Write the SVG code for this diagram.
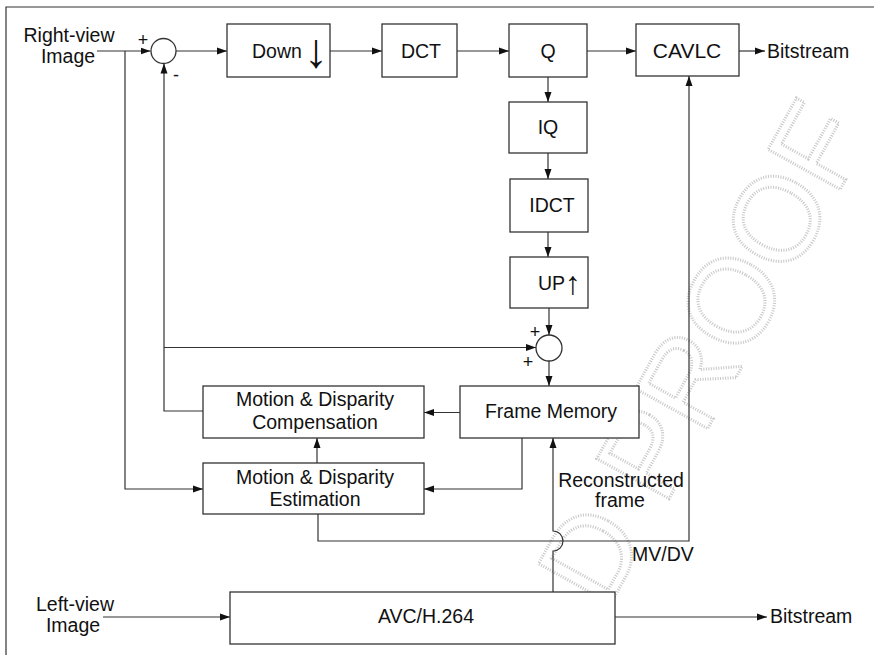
<svg xmlns="http://www.w3.org/2000/svg" width="874" height="655" viewBox="0 0 874 655">
<style>
.box{fill:#fff;stroke:#333;stroke-width:1.3}
.ln{fill:none;stroke:#333;stroke-width:1.2}
.sum{fill:#fff;stroke:#333;stroke-width:1.3}
.t{font-family:"Liberation Sans",Arial,sans-serif;font-size:19.5px;fill:#111;text-anchor:middle}
.l{font-family:"Liberation Sans",Arial,sans-serif;font-size:19.5px;fill:#111}
.s{font-family:"Liberation Sans",Arial,sans-serif;font-size:18px;fill:#111;text-anchor:middle}
.ar{font-family:"Liberation Sans",Arial,sans-serif}
.wm{font-family:"Liberation Sans",Arial,sans-serif;font-size:120px;fill:none;stroke:#c8c8c8;stroke-width:3;stroke-dasharray:1 1.5}
</style>
<defs>
<marker id="a" markerUnits="userSpaceOnUse" markerWidth="10" markerHeight="8" refX="10" refY="4" orient="auto">
<path d="M0,0.5 L10,4 L0,7.5 z" fill="#111"/>
</marker>
</defs>
<rect width="874" height="655" fill="#fff"/>
<g id="watermark">
<text class="wm" transform="translate(871,134) rotate(-61)" text-anchor="end">D PROOF</text>
</g>
<g id="frame">
<path class="ln" d="M6,655 V7 H874" stroke-width="1.5"/>
</g>
<g id="connectors">
<path class="ln" d="M97,51 H150.5" marker-end="url(#a)"/>
<path class="ln" d="M125,51 V489 H203" marker-end="url(#a)"/>
<path class="ln" d="M176,51 H227" marker-end="url(#a)"/>
<path class="ln" d="M330,51 H382" marker-end="url(#a)"/>
<path class="ln" d="M457,51 H509" marker-end="url(#a)"/>
<path class="ln" d="M587,51 H636" marker-end="url(#a)"/>
<path class="ln" d="M739,51 H765" marker-end="url(#a)"/>
<path class="ln" d="M548,77 V102" marker-end="url(#a)"/>
<path class="ln" d="M548,153 V179" marker-end="url(#a)"/>
<path class="ln" d="M548,232 V257" marker-end="url(#a)"/>
<path class="ln" d="M549,308 V335" marker-end="url(#a)"/>
<path class="ln" d="M549,361 V386" marker-end="url(#a)"/>
<path class="ln" d="M203,411 H164 V63.5" marker-end="url(#a)"/>
<path class="ln" d="M164,347.5 H536" marker-end="url(#a)"/>
<path class="ln" d="M460,412.5 H424" marker-end="url(#a)"/>
<path class="ln" d="M522,438 V489 H424" marker-end="url(#a)"/>
<path class="ln" d="M317,463 V438" marker-end="url(#a)"/>
<path class="ln" d="M318,514 V541 H689 V76" marker-end="url(#a)"/>
<path class="ln" d="M553,592 V551 A10,10 0 0 0 553,531 V438" marker-end="url(#a)"/>
<path class="ln" d="M103,617 H230" marker-end="url(#a)"/>
<path class="ln" d="M615,617 H767" marker-end="url(#a)"/>
</g>
<g id="right-input">
<text class="t" x="69" y="42">Right-view</text>
<text class="t" x="68" y="63">Image</text>
</g>
<g id="sum1">
<circle class="sum" cx="163.5" cy="51" r="12.5"/>
<text class="s" x="143" y="46">+</text>
<text class="s" x="176" y="81">-</text>
</g>
<g id="down"><rect class="box" x="227" y="24" width="103" height="53"/>
<text class="l" x="252" y="58">Down <tspan class="ar" x="304" dy="9" style="font-size:48px">↓</tspan></text></g>
<g id="dct"><rect class="box" x="382" y="24" width="75" height="53"/><text class="t" x="421" y="58">DCT</text></g>
<g id="q"><rect class="box" x="509" y="24" width="78" height="53"/><text class="t" x="548" y="58">Q</text></g>
<g id="cavlc"><rect class="box" x="636" y="24" width="103" height="52"/><text class="t" x="687" y="58" style="font-size:21px">CAVLC</text></g>
<g id="bitstream-top"><text class="l" x="767" y="58">Bitstream</text></g>
<g id="iq"><rect class="box" x="509" y="102" width="78" height="51"/><text class="t" x="548" y="134">IQ</text></g>
<g id="idct"><rect class="box" x="510" y="179" width="78" height="53"/><text class="t" x="552" y="212">IDCT</text></g>
<g id="up"><rect class="box" x="510" y="257" width="78" height="51"/>
<text class="l" x="538" y="290">UP<tspan class="ar" x="565" dy="4" style="font-size:32px">↑</tspan></text></g>
<g id="sum2">
<circle class="sum" cx="549" cy="348" r="13"/>
<text class="s" x="535" y="338">+</text>
<text class="s" x="528" y="368">+</text>
</g>
<g id="frame-memory"><rect class="box" x="460" y="386" width="179" height="52"/><text class="t" x="551" y="418">Frame Memory</text></g>
<g id="compensation"><rect class="box" x="203" y="386" width="221" height="52"/>
<text class="t" x="315" y="406">Motion &amp; Disparity</text><text class="t" x="315" y="429">Compensation</text></g>
<g id="estimation"><rect class="box" x="203" y="463" width="221" height="51"/>
<text class="t" x="315" y="484">Motion &amp; Disparity</text><text class="t" x="315" y="506">Estimation</text></g>
<g id="recon-label"><text class="t" x="621" y="487">Reconstructed</text><text class="t" x="620" y="507">frame</text></g>
<g id="mvdv-label"><text class="t" x="663" y="561">MV/DV</text></g>
<g id="left-input"><text class="t" x="75" y="611">Left-view</text><text class="t" x="73" y="632">Image</text></g>
<g id="avc"><rect class="box" x="230" y="592" width="385" height="52"/><text class="t" x="426" y="623">AVC/H.264</text></g>
<g id="bitstream-bottom"><text class="l" x="770" y="623">Bitstream</text></g>
</svg>
